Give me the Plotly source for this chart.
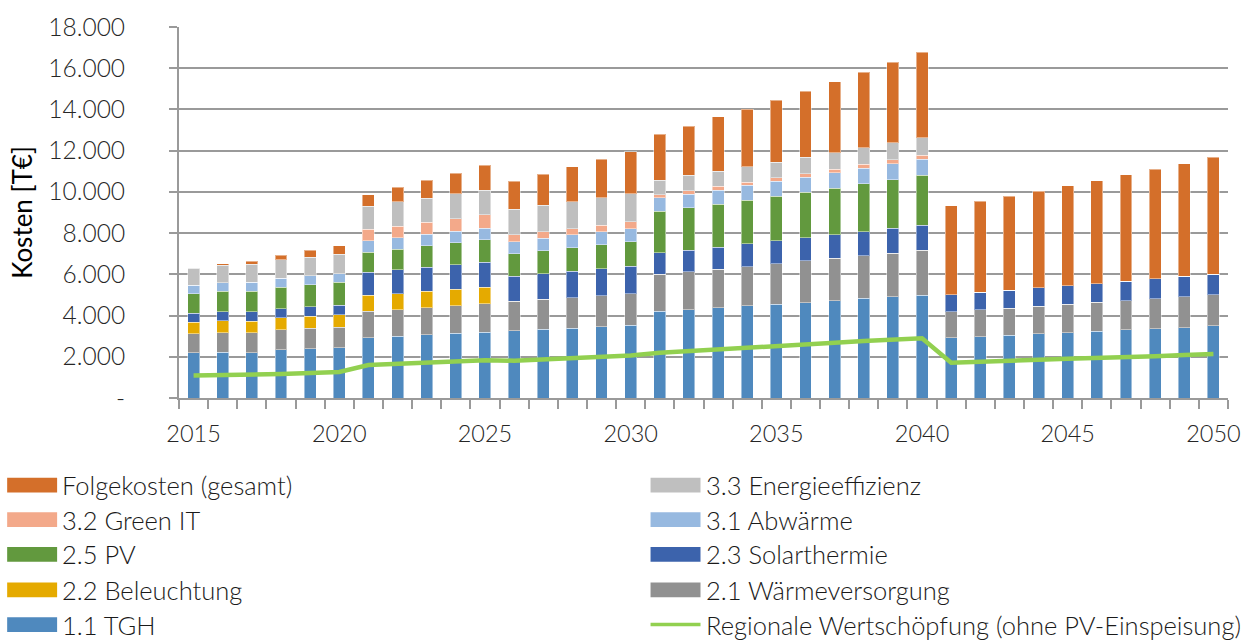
import plotly.graph_objects as go

years = list(range(2015, 2051))

tgh = [2190, 2230, 2190, 2330, 2380, 2430, 2930, 3000, 3080, 3140, 3190, 3270,
       3330, 3380, 3460, 3530, 4200, 4270, 4370, 4470, 4550, 4630, 4720, 4830,
       4910, 4990, 2930, 2980, 3050, 3110, 3170, 3240, 3320, 3360, 3410, 3510]
waerme = [920, 940, 970, 990, 1000, 1000, 1290, 1270, 1310, 1340, 1390, 1420,
          1450, 1490, 1500, 1540, 1800, 1850, 1880, 1910, 1960, 2020, 2060, 2060,
          2120, 2190, 1250, 1290, 1300, 1340, 1380, 1400, 1400, 1460, 1500, 1510]
beleuchtung = [570, 580, 570, 570, 590, 600, 760, 800, 780, 800, 790, 0,
               0, 0, 0, 0, 0, 0, 0, 0, 0, 0, 0, 0,
               0, 0, 0, 0, 0, 0, 0, 0, 0, 0, 0, 0]
solar = [420, 430, 450, 430, 450, 480, 1110, 1160, 1180, 1190, 1220, 1210,
         1250, 1270, 1320, 1330, 1050, 1060, 1060, 1100, 1130, 1120, 1150, 1180,
         1210, 1210, 830, 860, 880, 890, 890, 900, 940, 960, 990, 980]
pv = [960, 1000, 1000, 1050, 1070, 1100, 990, 990, 1030, 1060, 1080, 1100,
      1110, 1150, 1150, 1170, 2010, 2050, 2100, 2110, 2140, 2220, 2250, 2330,
      2350, 2410, 0, 0, 0, 0, 0, 0, 0, 0, 0, 0]
abwaerme = [410, 400, 430, 430, 440, 430, 540, 550, 560, 570, 570, 570,
            600, 620, 640, 640, 650, 660, 670, 730, 730, 710, 740, 750,
            780, 790, 0, 0, 0, 0, 0, 0, 0, 0, 0, 0]
green_it = [0, 0, 0, 0, 0, 0, 560, 570, 580, 590, 650, 360,
            330, 300, 320, 350, 160, 170, 190, 140, 170, 190, 190, 200,
            190, 190, 0, 0, 0, 0, 0, 0, 0, 0, 0, 0]
effizienz = [830, 850, 880, 900, 900, 930, 1130, 1170, 1160, 1210, 1190, 1220,
             1270, 1310, 1320, 1360, 700, 740, 730, 750, 770, 780, 800, 790,
             820, 840, 0, 0, 0, 0, 0, 0, 0, 0, 0, 0]
folgekosten = [0, 80, 150, 220, 330, 410, 540, 710, 880, 1010, 1210, 1360,
               1510, 1690, 1870, 2030, 2220, 2390, 2640, 2790, 2990, 3210, 3430, 3660,
               3900, 4160, 4320, 4420, 4560, 4690, 4850, 5000, 5170, 5320, 5470, 5670]
wertschoepfung = [1090, 1100, 1130, 1160, 1210, 1260, 1600, 1660, 1720, 1790, 1830, 1810,
                  1860, 1930, 1990, 2060, 2190, 2280, 2340, 2420, 2500, 2600, 2680, 2760,
                  2820, 2900, 1710, 1740, 1800, 1850, 1900, 1930, 1980, 2020, 2090, 2140]

y_tickvals = [0, 2000, 4000, 6000, 8000, 10000, 12000, 14000, 16000, 18000]
y_ticktext = ["-", "2.000", "4.000", "6.000", "8.000", "10.000", "12.000",
              "14.000", "16.000", "18.000"]
x_tickvals = [2015, 2020, 2025, 2030, 2035, 2040, 2045, 2050]

# stacking order, bottom to top
stack = [
    ("1.1 TGH", tgh, "#4F89BE"),
    ("2.1 Wärmeversorgung", waerme, "#919191"),
    ("2.2 Beleuchtung", beleuchtung, "#E5AA00"),
    ("2.3 Solarthermie", solar, "#3C63AC"),
    ("2.5 PV", pv, "#62993E"),
    ("3.1 Abwärme", abwaerme, "#97B9E0"),
    ("3.2 Green IT", green_it, "#F3A98A"),
    ("3.3 Energieeffizienz", effizienz, "#BFBFBF"),
    ("Folgekosten (gesamt)", folgekosten, "#D46F2A"),
]
line_name = "Regionale Wertschöpfung (ohne PV-Einspeisung)"
line_color = "#92D050"

FONT = "Lato"
W, H = 1253, 641
L, R, T, B = 179, 24, 23, 243
PW, PH = W - L - R, H - T - B

fig = go.Figure()
for name, vals, col in stack:
    fig.add_trace(go.Bar(
        x=years, y=vals, name=name, width=0.41,
        marker=dict(color=col, line=dict(color="rgba(255,255,255,0.45)", width=1)),
        showlegend=False,
    ))
fig.add_trace(go.Scatter(
    x=years, y=wertschoepfung, name=line_name, mode="lines",
    line=dict(color=line_color, width=4.5), showlegend=False,
))

# two-column legend below the chart (pixel layout converted to paper units)
def px_x(px):
    return (px - L) / PW

def px_y(py):
    return (H - B - py) / PH

left_col = ["Folgekosten (gesamt)", "3.2 Green IT", "2.5 PV", "2.2 Beleuchtung", "1.1 TGH"]
right_col = ["3.3 Energieeffizienz", "3.1 Abwärme", "2.3 Solarthermie", "2.1 Wärmeversorgung", line_name]
colors = {n: c for n, _, c in stack}
colors[line_name] = line_color
row_y = [486, 521, 556, 592, 627]

shapes = []
annotations = []
for col_items, sx0, sx1, tx in [(left_col, 7, 57, 60), (right_col, 651, 701, 705)]:
    for name, cy in zip(col_items, row_y):
        if name == line_name:
            shapes.append(dict(type="line", xref="paper", yref="paper",
                               x0=px_x(sx0), x1=px_x(sx1), y0=px_y(cy), y1=px_y(cy),
                               line=dict(color=line_color, width=3.5)))
        else:
            shapes.append(dict(type="rect", xref="paper", yref="paper",
                               x0=px_x(sx0), x1=px_x(sx1),
                               y0=px_y(cy + 7.5), y1=px_y(cy - 7.5),
                               fillcolor=colors[name], line=dict(width=0)))
        annotations.append(dict(text=name, xref="paper", yref="paper",
                                x=px_x(tx), y=px_y(cy), xanchor="left", yanchor="middle",
                                showarrow=False,
                                font=dict(family=FONT, size=25.5, color="#1a1a1a", weight=300)))

fig.update_layout(
    width=W, height=H,
    margin=dict(l=L, r=R, t=T, b=B, pad=0),
    plot_bgcolor="white", paper_bgcolor="white",
    barmode="stack",
    shapes=shapes, annotations=annotations,
    font=dict(family=FONT, color="#333333"),
)
fig.update_xaxes(
    range=[2014.5, 2050.5],
    tickmode="array", tickvals=x_tickvals, ticktext=[str(v) for v in x_tickvals],
    ticks="", showgrid=False, zeroline=False,
    showline=True, linecolor="#9a9a9a", linewidth=2,
    tickfont=dict(family=FONT, size=23.5, color="#262626", weight=300),
    ticklabelstandoff=14,
    minor=dict(tick0=2014.5, dtick=1, ticks="outside", ticklen=9,
               tickcolor="#9a9a9a", tickwidth=2, showgrid=False),
)
fig.update_yaxes(
    range=[0, 18000],
    tickmode="array", tickvals=y_tickvals, ticktext=y_ticktext,
    ticks="outside", ticklen=8, tickcolor="#9a9a9a", tickwidth=2,
    showgrid=True, gridcolor="#9a9a9a", gridwidth=2,
    showline=True, linecolor="#9a9a9a", linewidth=2, zeroline=False,
    tickfont=dict(family=FONT, size=24.5, color="#262626", weight=300),
    ticklabelstandoff=39,
    title=dict(text="Kosten [T€]", standoff=8,
               font=dict(family=FONT, size=26, color="#000000")),
)

fig.write_html("out.html")
